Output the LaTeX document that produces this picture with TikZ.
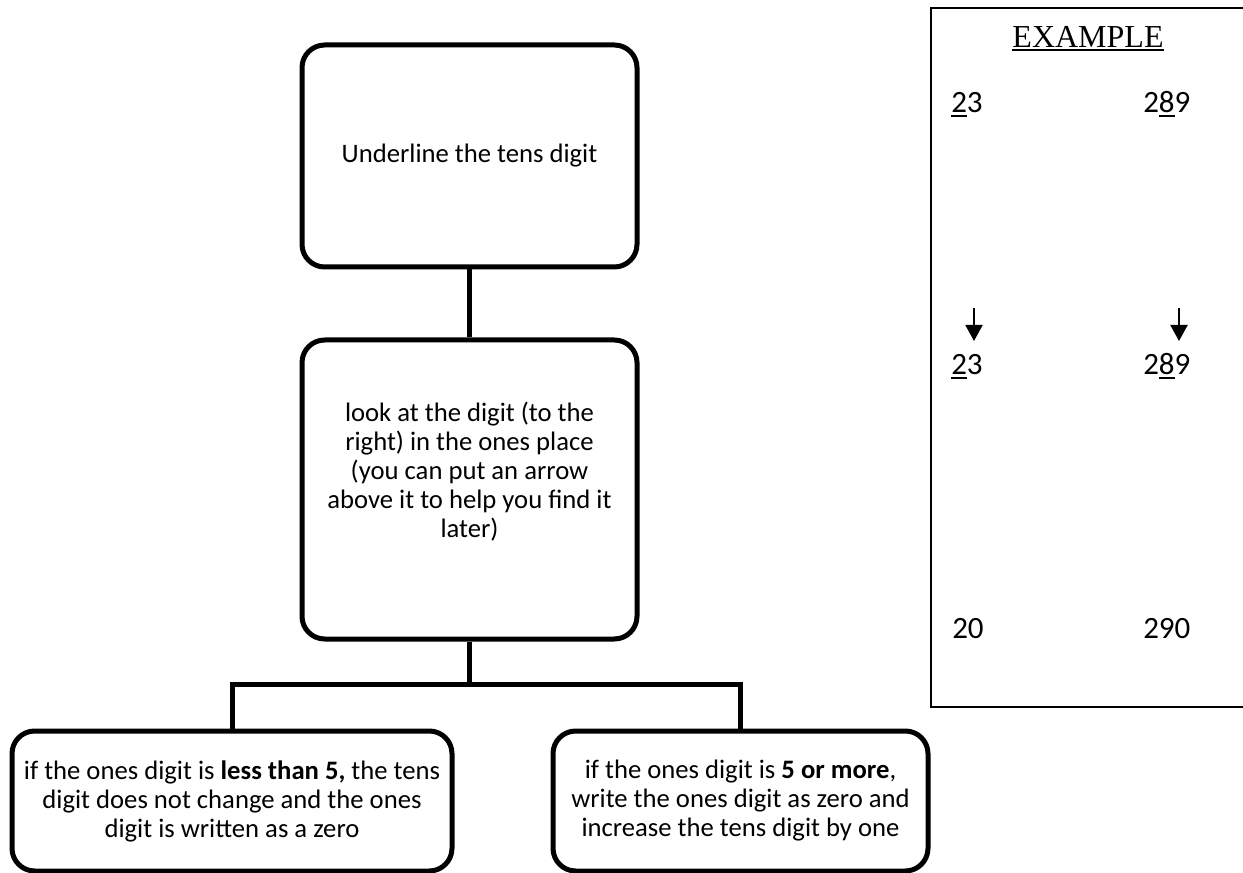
\documentclass[tikz,border=0pt]{standalone}
\usepackage{fontspec}
\setmainfont{Carlito}
\newfontfamily\tnr{Liberation Serif}
\usetikzlibrary{arrows.meta}
\newcommand\myul[3]{\setbox0=\hbox{#1}\rlap{\rule[-#2]{\wd0}{#3}}\box0\relax}
\begin{document}
\begin{tikzpicture}[x=0.75pt,y=-0.75pt,
  rbox/.style={draw, line width=3.75pt, rounded corners=17pt, align=center, inner sep=0pt,
               font=\fontsize{20}{21.75}\selectfont},
  txt/.style={align=center, inner sep=0pt, font=\fontsize{20}{21.75}\selectfont},
  conn/.style={line width=3.75pt},
  digit/.style={anchor=base west, inner sep=0pt, font=\fontsize{23.25}{27}\selectfont},
  darrow/.style={line width=1.5pt, -{Triangle[width=12.75pt,length=12pt]}}]
\useasboundingbox (0,0) rectangle (1243,873);
\clip (0,0) rectangle (1243,873);
% flowchart boxes
\node[rbox, minimum width=251.25pt, minimum height=166.5pt] (top) at (469.5,156) {Underline the tens digit};
\node[rbox, minimum width=251.25pt, minimum height=224.25pt] (mid) at (469.5,489.5) {};
\node[txt] (midtxt) at (469.5,472) {look at the digit (to the\\right) in the ones place\\(you can put an arrow\\above it to help you find it\\later)};
\node[rbox, minimum width=330pt, minimum height=105pt] (bl) at (232,801) {if the ones digit is \textbf{less than 5,} the tens\\digit does not change and the ones\\digit is written as a zero};
\node[rbox, minimum width=281.25pt, minimum height=105pt] (br) at (740.5,801) {if the ones digit is \textbf{5 or more},\\write the ones digit as zero and\\increase the tens digit by one};
% connectors
\coordinate (jn) at (469.5,684);
\draw[conn] (top) -- (mid);
\draw[conn] (mid) -- (jn);
\draw[conn] (bl.north) |- (jn) -| (br.north);
% example panel
\node[draw, line width=1.5pt, minimum width=247.5pt, minimum height=524.25pt, inner sep=0pt] (ex) at (1096,357.5) {};
\node[anchor=base, inner sep=0pt, font=\tnr\fontsize{24}{28}\selectfont] (extitle) at (1088,48) {\myul{EXAMPLE}{2.2pt}{1.2pt}};
\node[digit] (d1) at (951,113) {\myul{2}{3pt}{1.5pt}3};
\node[digit] (d2) at (1143,113) {2\myul{8}{3pt}{1.5pt}9};
\node[digit] (d3) at (951,375) {\myul{2}{3pt}{1.5pt}3};
\node[digit] (d4) at (1143,375) {2\myul{8}{3pt}{1.5pt}9};
\node[digit] (d5) at (952,638) {20};
\node[digit] (d6) at (1143,638) {290};
\coordinate (a1s) at (974,308);
\coordinate (a1e) at (974,341);
\coordinate (a2s) at (1179,308);
\coordinate (a2e) at (1179,341);
\draw[darrow] (a1s) -- (a1e);
\draw[darrow] (a2s) -- (a2e);
\end{tikzpicture}
\end{document}
